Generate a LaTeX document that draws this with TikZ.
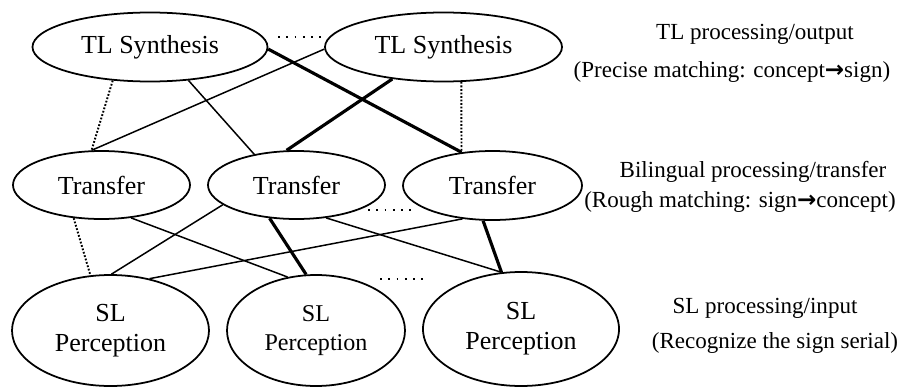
\documentclass[tikz,border=0pt]{standalone}
\usepackage{fontspec}
\setmainfont{Liberation Serif}
\newfontfamily\arrowfont{DejaVu Sans}
\usetikzlibrary{shapes.geometric}

\newcommand{\sto}{{\arrowfont\bfseries →}}

\begin{document}
\begin{tikzpicture}[x=0.2mm, y=0.2mm,
  stage/.style={draw, ellipse, line width=1pt, inner sep=0pt, align=center,
    font=\fontsize{14.8}{17}\selectfont},
  link/.style={line width=0.85pt},
  strong/.style={line width=1.8pt},
  loose/.style={line width=1.1pt, dash pattern=on 1pt off 1pt},
  etc/.style={line width=1.1pt, dash pattern=on 1.1pt off 3.6pt},
  level/.style={font=\fontsize{13.1}{15}\selectfont}]
  \useasboundingbox (0,0) rectangle (902,387);

  % TL level
  \node[stage, minimum width=47mm, minimum height=13.8mm] (tls1) at (150,340) {TL Synthesis};
  \node[stage, minimum width=47.4mm, minimum height=13.8mm] (tls2) at (443.5,340) {TL Synthesis};
  \draw[etc] (278,350) -- (322,350);

  % transfer level
  \node[stage, minimum width=35.4mm, minimum height=13.6mm] (tr1) at (101.5,202) {Transfer};
  \node[stage, minimum width=35.4mm, minimum height=13.6mm] (tr2) at (296.5,202) {Transfer};
  \node[stage, minimum width=35.8mm, minimum height=13.8mm] (tr3) at (492.5,201.5) {Transfer};
  \draw[etc] (368,177) -- (412,177);

  % SL level
  \node[stage, minimum width=39.4mm, minimum height=22.2mm] (slp1) at (110.5,56.5) {SL\\Perception};
  \node[stage, minimum width=35.6mm, minimum height=22.2mm,
    font=\fontsize{13.7}{16.5}\selectfont] (slp2) at (316,56.5) {SL\\Perception};
  \node[stage, minimum width=39.2mm, minimum height=22.8mm] (slp3) at (521,58) {SL\\Perception};
  \draw[etc] (380,108) -- (428,108);

  % TL -> transfer
  \draw[loose]  (tls1.222) -- (tr1.106);
  \draw[link]   (tls2.181) -- (tr1.106);
  \draw[link]   (tls1.319) -- (tr2.144);
  \draw[strong] (tls1.359) -- (tr3.133);
  \draw[strong] (tls2.212) -- (tr2.106);
  \draw[loose]  (tls2.297) -- (tr3.133);

  % transfer -> SL
  \draw[loose]  (tr1.230) -- (slp1.110);
  \draw[link]   (tr1.312) -- (slp2.118);
  \draw[link]   (tr2.195) -- (slp1.89);
  \draw[strong] (tr2.231) -- (slp2.100);
  \draw[link]   (tr2.312) -- (slp3.109);
  \draw[link]   (tr3.228) -- (slp1.53);
  \draw[strong] (tr3.255) -- (slp3.109);

  % level captions
  \node[level] (tlout)  at (755,353) {TL processing/output};
  \node[level] (tlnote) at (732,315) {(Precise matching: concept\sto sign)};
  \node[level] (biout)  at (753,215) {Bilingual processing/transfer};
  \node[level] (binote) at (740,185) {(Rough matching: sign\sto concept)};
  \node[level] (slout)  at (765,79)  {SL processing/input};
  \node[level] (slnote) at (775,44)  {(Recognize the sign serial)};
\end{tikzpicture}
\end{document}
